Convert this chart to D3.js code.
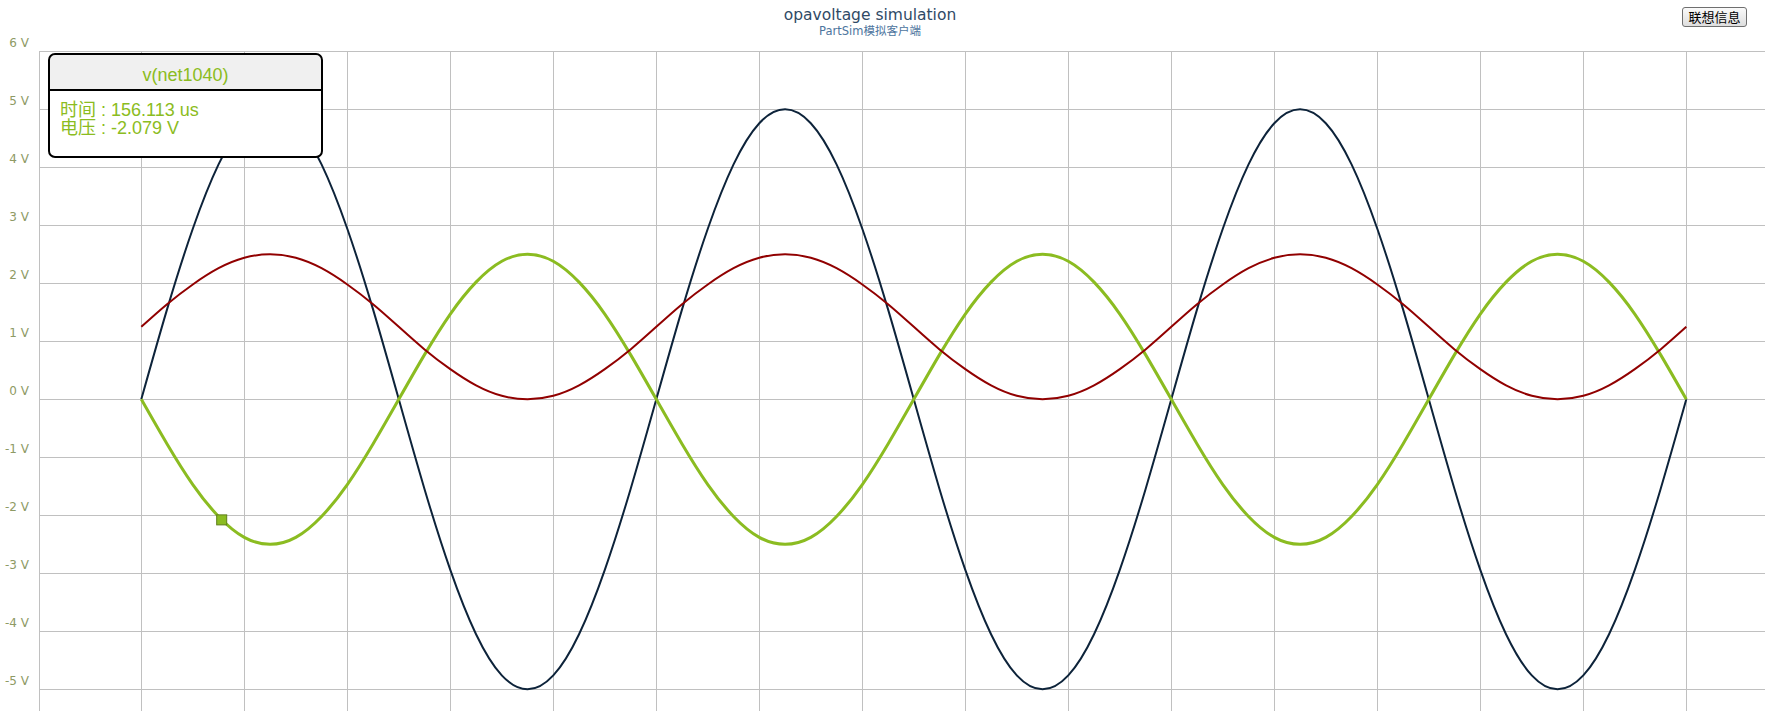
<!DOCTYPE html>
<html>
<head>
<meta charset="utf-8">
<script src="https://cdn.jsdelivr.net/npm/d3@7"></script>
<style>
  html, body { margin: 0; padding: 0; background: #fff; overflow: hidden; }
  #wrap { position: relative; width: 1765px; height: 711px; }
  svg { position: absolute; left: 0; top: 0; }
  #btn {
    position: absolute; left: 1682px; top: 7px; width: 65px; height: 20px;
    font-family: "Noto Sans CJK SC", sans-serif; font-size: 13px; line-height: 16px;
    padding: 0; color: #000;
    background: linear-gradient(#fafafa, #dedede);
    border: 1px solid #6f6f6f; border-radius: 3px;
  }
</style>
</head>
<body>
<div id="wrap">
<svg id="chart" width="1765" height="711"></svg>
<button id="btn">联想信息</button>
</div>
<script>
// ---- data ----
const chartTitle = "opavoltage simulation";
const chartSubtitle = "PartSim模拟客户端";
const yTicks = [-5, -4, -3, -2, -1, 0, 1, 2, 3, 4, 5, 6];
const yTickLabels = ["-5 V", "-4 V", "-3 V", "-2 V", "-1 V", "0 V", "1 V", "2 V", "3 V", "4 V", "5 V", "6 V"];
const xTicks = [-200, 0, 200, 400, 600, 800, 1000, 1200, 1400, 1600, 1800, 2000, 2200, 2400, 2600, 2800, 3000];

// time in microseconds
const timeUs = [
  0, 50, 100, 150, 200, 250, 300, 350, 400, 450,
  500, 550, 600, 650, 700, 750, 800, 850, 900, 950,
  1000, 1050, 1100, 1150, 1200, 1250, 1300, 1350, 1400, 1450,
  1500, 1550, 1600, 1650, 1700, 1750, 1800, 1850, 1900, 1950,
  2000, 2050, 2100, 2150, 2200, 2250, 2300, 2350, 2400, 2450,
  2500, 2550, 2600, 2650, 2700, 2750, 2800, 2850, 2900, 2950,
  3000
];
// dark series (input)
const vNavy = [
  0, 1.55, 2.94, 4.05, 4.76, 5, 4.76, 4.05, 2.94, 1.55,
  0, -1.55, -2.94, -4.05, -4.76, -5, -4.76, -4.05, -2.94, -1.55,
  0, 1.55, 2.94, 4.05, 4.76, 5, 4.76, 4.05, 2.94, 1.55,
  0, -1.55, -2.94, -4.05, -4.76, -5, -4.76, -4.05, -2.94, -1.55,
  0, 1.55, 2.94, 4.05, 4.76, 5, 4.76, 4.05, 2.94, 1.55,
  0, -1.55, -2.94, -4.05, -4.76, -5, -4.76, -4.05, -2.94, -1.55,
  0
];
// v(net1040)
const vGreen = [
  0, -0.77, -1.47, -2.02, -2.38, -2.5, -2.38, -2.02, -1.47, -0.77,
  0, 0.77, 1.47, 2.02, 2.38, 2.5, 2.38, 2.02, 1.47, 0.77,
  0, -0.77, -1.47, -2.02, -2.38, -2.5, -2.38, -2.02, -1.47, -0.77,
  0, 0.77, 1.47, 2.02, 2.38, 2.5, 2.38, 2.02, 1.47, 0.77,
  0, -0.77, -1.47, -2.02, -2.38, -2.5, -2.38, -2.02, -1.47, -0.77,
  0, 0.77, 1.47, 2.02, 2.38, 2.5, 2.38, 2.02, 1.47, 0.77,
  0
];
// red series
const vRed = [
  1.25, 1.64, 1.98, 2.26, 2.44, 2.5, 2.44, 2.26, 1.98, 1.64,
  1.25, 0.86, 0.52, 0.24, 0.06, 0, 0.06, 0.24, 0.52, 0.86,
  1.25, 1.64, 1.98, 2.26, 2.44, 2.5, 2.44, 2.26, 1.98, 1.64,
  1.25, 0.86, 0.52, 0.24, 0.06, 0, 0.06, 0.24, 0.52, 0.86,
  1.25, 1.64, 1.98, 2.26, 2.44, 2.5, 2.44, 2.26, 1.98, 1.64,
  1.25, 0.86, 0.52, 0.24, 0.06, 0, 0.06, 0.24, 0.52, 0.86,
  1.25
];
const seriesNames = ["navy", "v(net1040)", "red"];
const seriesColors = ["#0d233a", "#8bbc21", "#910000"];

// hovered point
const hoverSeries = "v(net1040)";
const hoverTime = 156.113;
const hoverValue = -2.079;

// ---- drawing ----
const svg = d3.select("#chart");
const plotLeft = 39.3, plotRight = 1765, plotTop = 51.3, plotBottom = 711;

const x = d3.scaleLinear().domain([0, 3000]).range([141.3, 1686.3]);
const y = d3.scaleLinear().domain([-5, 6]).range([689.3, 51.3]);

// title
svg.append("text").attr("x", 870).attr("y", 20).attr("text-anchor", "middle")
  .style("font-family", "'DejaVu Sans', sans-serif").style("font-size", "15.5px")
  .style("fill", "#2f4a66").text(chartTitle);
svg.append("text").attr("x", 870).attr("y", 35).attr("text-anchor", "middle")
  .style("font-family", "'DejaVu Sans', 'Noto Sans CJK SC', sans-serif").style("font-size", "11.5px")
  .style("fill", "#4d759e").text(chartSubtitle);

// grid
const grid = svg.append("g");
grid.selectAll("line.h").data(yTicks).join("line")
  .attr("x1", plotLeft).attr("x2", plotRight)
  .attr("y1", d => Math.round(y(d)) + 0.5).attr("y2", d => Math.round(y(d)) + 0.5)
  .attr("stroke", "#c0c0c0").attr("stroke-width", 1);
grid.selectAll("line.v").data(xTicks).join("line")
  .attr("x1", d => Math.round(Math.max(x(d), plotLeft)) + 0.5)
  .attr("x2", d => Math.round(Math.max(x(d), plotLeft)) + 0.5)
  .attr("y1", Math.round(plotTop)).attr("y2", plotBottom)
  .attr("stroke", "#c0c0c0").attr("stroke-width", 1);

// y labels
svg.append("g").selectAll("text").data(yTicks).join("text")
  .attr("x", 29).attr("y", d => y(d) - 4)
  .attr("text-anchor", "end")
  .style("font-family", "'DejaVu Sans', sans-serif").style("font-size", "12px")
  .style("fill", "#8e9a64")
  .text((d, i) => yTickLabels[i]);

// series
const allValues = [vNavy, vGreen, vRed];
const line = d3.line().x(d => x(d[0])).y(d => y(d[1])).curve(d3.curveNatural);
const widths = [2, 3, 2];
allValues.forEach((vals, i) => {
  svg.append("path")
    .datum(timeUs.map((t, k) => [t, vals[k]]))
    .attr("d", line)
    .attr("fill", "none")
    .attr("stroke", seriesColors[i])
    .attr("stroke-width", widths[i])
    .attr("stroke-linejoin", "round");
});

// hover marker
const mx = x(hoverTime), my = y(hoverValue);
svg.append("rect").attr("x", mx - 5).attr("y", my - 5).attr("width", 10).attr("height", 10)
  .attr("fill", "#8bbc21").attr("stroke", "#5f7f1a").attr("stroke-width", 1);

// tooltip
const tt = svg.append("g");
const tx = 49, ty = 54, tw = 273, th = 103, hh = 36;
tt.append("rect").attr("x", tx).attr("y", ty).attr("width", tw).attr("height", th)
  .attr("rx", 6).attr("fill", "#fff");
tt.append("path")
  .attr("d", `M${tx},${ty + hh} V${ty + 6} Q${tx},${ty} ${tx + 6},${ty} H${tx + tw - 6} Q${tx + tw},${ty} ${tx + tw},${ty + 6} V${ty + hh} Z`)
  .attr("fill", "#f0f0f0");
tt.append("line").attr("x1", tx).attr("x2", tx + tw).attr("y1", ty + hh).attr("y2", ty + hh)
  .attr("stroke", "#000").attr("stroke-width", 2);
tt.append("rect").attr("x", tx).attr("y", ty).attr("width", tw).attr("height", th)
  .attr("rx", 6).attr("fill", "none").attr("stroke", "#000").attr("stroke-width", 2);
const ttFont = "'Liberation Sans', Arial, 'Noto Sans CJK SC', sans-serif";
tt.append("text").attr("x", tx + tw / 2).attr("y", ty + 27).attr("text-anchor", "middle")
  .style("font-family", ttFont).style("font-size", "18px").style("fill", "#8bbc21")
  .text(hoverSeries);
tt.append("text").attr("x", 60).attr("y", 116)
  .style("font-family", ttFont).style("font-size", "18px").style("fill", "#8bbc21")
  .text("时间 : " + hoverTime.toFixed(3) + " us");
tt.append("text").attr("x", 60).attr("y", 134)
  .style("font-family", ttFont).style("font-size", "18px").style("fill", "#8bbc21")
  .text("电压 : " + hoverValue.toFixed(3) + " V");
</script>
</body>
</html>
